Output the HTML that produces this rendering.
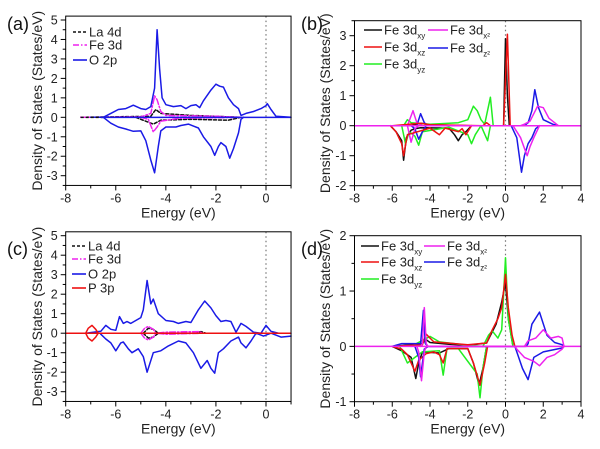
<!DOCTYPE html>
<html><head><meta charset="utf-8"><style>
body{margin:0;background:#fff;}
svg{display:block;font-family:"Liberation Sans",sans-serif;}
</style></head><body>
<svg id="fig" width="600" height="449" viewBox="0 0 600 449"></svg>
<script>
// ---------- Panel (a) data: [energy, DOS] ----------
const a_La4d_up=[[-7.4,0],[-4.6,0.05],[-4.4,0.4],[-4.2,0.2],[-3.0,0.1],[-2.0,0.05],[-1,0]];
const a_La4d_dn=[[-5.2,0],[-5,-0.1],[-4.5,-0.35],[-4.2,-0.15],[-3,-0.1],[-1.5,-0.15],[-1,0]];
const a_Fe3d_up=[[-7.4,0],[-5,0.02],[-4.6,0.2],[-4.45,1.1],[-4.35,0.9],[-4.2,0.3],[-4,0.1],[-2,0.05],[-1,0]];
const a_Fe3d_dn=[[-5,0],[-4.7,-0.1],[-4.5,-0.75],[-4.35,-0.5],[-4.2,-0.2],[-3.5,-0.05],[-1,0]];
const a_O2p_up=[[-7,0],[-6.5,0],[-6.2,0.2],[-5.9,0.4],[-5.6,0.45],[-5.3,0.62],[-5.0,0.45],[-4.8,0.4],[-4.6,0.55],[-4.45,1.5],[-4.35,4.5],[-4.25,2.5],[-4.15,1.0],[-4.0,0.65],[-3.7,0.55],[-3.4,0.6],[-3.2,0.45],[-3.0,0.6],[-2.8,0.65],[-2.65,0.5],[-2.5,0.85],[-2.2,1.4],[-2.0,1.7],[-1.85,1.6],[-1.7,1.55],[-1.5,1.0],[-1.3,0.65],[-1.1,0.45],[-1.0,0.1],[-0.8,0.2],[-0.5,0.3],[-0.2,0.45],[0,0.6],[0.05,0.7],[0.2,0.4],[0.4,0.05],[1,0]];
const a_O2p_dn=[[-6.5,0],[-6.2,-0.3],[-5.9,-0.5],[-5.6,-0.6],[-5.3,-0.72],[-5.0,-0.7],[-4.8,-1.2],[-4.6,-2.2],[-4.45,-2.85],[-4.3,-1.5],[-4.2,-0.7],[-4.0,-0.5],[-3.8,-0.5],[-3.6,-0.5],[-3.4,-0.42],[-3.1,-0.35],[-2.9,-0.45],[-2.7,-0.55],[-2.5,-1.0],[-2.2,-1.5],[-2.05,-1.95],[-1.9,-1.5],[-1.8,-1.3],[-1.6,-1.5],[-1.45,-2.1],[-1.3,-1.6],[-1.1,-0.8],[-1.0,-0.1],[-0.9,0]];
// ---------- Panel (b) data ----------
const b_xy_up=[[-6,0],[-5,0],[-4.5,0.08],[-4,0.03],[-2,0],[-0.1,0],[0,2.9],[0.1,1],[0.2,0],[3,0]];
const b_xy_dn=[[-6.1,0],[-5.8,-0.2],[-5.65,-0.35],[-5.5,-0.5],[-5.4,-1.15],[-5.25,-0.4],[-5.0,-0.15],[-4.8,-0.1],[-4.5,-0.07],[-3,-0.08],[-2.7,-0.3],[-2.5,-0.5],[-2.3,-0.3],[-2.1,-0.2],[-1.8,0]];
const b_xz_up=[[-6,0],[-4.5,0.08],[-4,0.03],[-1.2,0],[-1,0.1],[-0.8,0],[-0.1,0],[0.1,3.05],[0.25,0],[3,0]];
const b_xz_dn=[[-6.1,0],[-5.8,-0.2],[-5.5,-0.6],[-5.4,-1.0],[-5.2,-0.3],[-4,-0.08],[-3.5,-0.3],[-3.2,-0.08],[-2.5,-0.2],[-2.3,-0.1],[-2.1,-0.3],[-1.8,0]];
const b_yz_up=[[-5.4,0],[-5.2,0.2],[-5,0.1],[-4,0.05],[-2.5,0.1],[-2.0,0.2],[-1.7,0.65],[-1.5,0.5],[-1.3,0.2],[-1.1,0.05],[-0.8,0.95],[-0.65,0]];
const b_yz_dn=[[-5.5,0],[-5.3,-0.6],[-5.1,-0.2],[-4.8,-0.35],[-4.6,-0.65],[-4.4,-0.2],[-3,-0.05],[-2,-0.3],[-1.8,-0.6],[-1.6,-0.3],[-1.3,0],[-0.95,-0.5],[-0.8,0]];
const b_x2_up=[[-5.2,0],[-4.9,0.5],[-4.7,0.1],[-4.4,0],[0.8,0],[1.0,0.05],[1.3,0.15],[1.5,0.4],[1.7,0.65],[2.0,0.6],[2.3,0.25],[2.6,0.1],[2.8,0]];
const b_x2_dn=[[-5.2,0],[-5.0,-0.55],[-4.8,-0.1],[-4.6,0],[0.4,0],[0.8,-0.4],[1.0,-0.75],[1.15,-1.0],[1.3,-0.7],[1.5,-0.4],[1.8,0]];
const b_z2_up=[[-4.7,0],[-4.5,0.4],[-4.3,0.1],[-4.1,0],[1.0,0],[1.2,0.1],[1.4,0.5],[1.55,1.2],[1.75,0.6],[2.0,0.2],[2.5,0.05],[2.8,0]];
const b_z2_dn=[[-5,0],[-4.8,-0.1],[-4.6,-0.45],[-4.4,-0.2],[-4.2,0],[0.3,0],[0.6,-0.4],[0.85,-1.55],[1.0,-1.0],[1.2,-0.6],[1.4,-0.4],[1.6,-0.1],[1.8,0]];
// ---------- Panel (c) data ----------
const c_La4d_up=[[-4.9,0],[-4.7,0.25],[-4.5,0.2],[-4.3,0],[-2.8,0],[-2.6,0.08],[-2.4,0]];
const c_La4d_dn=[[-4.9,0],[-4.7,-0.25],[-4.5,-0.2],[-4.3,0]];
const c_Fe3d_up=[[-5.0,0],[-4.85,0.25],[-4.7,0.35],[-4.5,0.2],[-4.4,0],[-4,0.05],[-2.7,0.08],[-2.5,0]];
const c_Fe3d_dn=[[-5.0,0],[-4.85,-0.25],[-4.7,-0.35],[-4.5,-0.2],[-4.4,0],[-4,-0.05],[-2.5,0]];
const c_O2p_up=[[-7.2,0],[-6.6,0.1],[-6.4,0.4],[-6.2,0.2],[-6.0,0.15],[-5.85,0.85],[-5.7,0.5],[-5.55,0.6],[-5.4,0.5],[-5.0,0.8],[-4.9,1.2],[-4.75,2.7],[-4.6,1.5],[-4.5,1.75],[-4.3,1.0],[-4.0,0.65],[-3.7,0.6],[-3.5,0.5],[-3.2,0.6],[-3.0,0.55],[-2.7,1.2],[-2.45,1.65],[-2.2,1.3],[-2.0,0.9],[-1.8,0.6],[-1.6,0.65],[-1.4,0.6],[-1.2,0.05],[-1.0,0.5],[-0.8,0.35],[-0.5,0.05],[-0.2,0],[0,0.4],[0.2,0.1],[0.5,0],[1,0]];
const c_O2p_dn=[[-6.6,-0.05],[-6.4,-0.3],[-6.2,-0.5],[-6.0,-0.9],[-5.8,-0.5],[-5.7,-0.45],[-5.5,-0.8],[-5.35,-1.0],[-5.1,-0.8],[-4.9,-1.2],[-4.75,-2.0],[-4.5,-1.0],[-4.2,-0.9],[-3.9,-0.65],[-3.5,-0.4],[-3.2,-0.5],[-2.9,-1.0],[-2.6,-1.8],[-2.35,-1.4],[-2.2,-1.8],[-2.05,-2.05],[-1.9,-1.0],[-1.7,-0.8],[-1.4,-0.4],[-1.1,-0.2],[-1.0,-0.5],[-0.8,-0.75],[-0.6,-0.4],[-0.4,0],[-0.1,-0.15],[0.2,0],[0.6,-0.2],[1,-0.15]];
const c_P3p_up=[[-7.2,0],[-7.1,0.25],[-6.95,0.4],[-6.8,0.2],[-6.7,0]];
const c_P3p_dn=[[-7.2,0],[-7.1,-0.25],[-6.95,-0.4],[-6.8,-0.2],[-6.7,0]];
// ---------- Panel (d) data ----------
const d_xy_up=[[-6,0],[-5,0.03],[-4.5,0.03],[-4.2,0.12],[-4,0.07],[-3,0.04],[-2,0.02],[-1,0.06],[-0.5,0.4],[-0.2,0.8],[0,1.15],[0.15,0.5],[0.4,0]];
const d_xy_dn=[[-6,0],[-5.5,-0.08],[-5,-0.2],[-4.75,-0.58],[-4.6,-0.3],[-4.4,-0.1],[-3.5,-0.12],[-3.0,-0.04],[-2,-0.04],[-1.7,-0.3],[-1.4,-0.7],[-1.2,-0.4],[-1.0,0]];
const d_xz_up=[[-6,0],[-4.4,0.03],[-4.2,0.22],[-3.8,0.08],[-2,0.03],[-1,0.06],[-0.7,0.3],[-0.4,0.5],[-0.2,0.7],[0,1.3],[0.15,0.7],[0.35,0.2],[0.5,0]];
const d_xz_dn=[[-6,0],[-5.5,-0.05],[-5.2,-0.15],[-4.8,-0.45],[-4.6,-0.25],[-4.2,-0.13],[-3.8,-0.1],[-3.5,-0.15],[-3.3,-0.3],[-3.1,-0.04],[-2,-0.04],[-1.7,-0.3],[-1.35,-0.7],[-1.1,-0.3],[-0.95,0]];
const d_yz_up=[[-5,0],[-4,0.18],[-3.5,0.08],[-2,0.02],[-1.2,0],[-0.9,0.2],[-0.7,0.28],[-0.4,0.15],[-0.2,0.3],[0,1.6],[0.15,0.5],[0.4,0]];
const d_yz_dn=[[-5.6,0],[-5.2,-0.3],[-4.8,-0.2],[-4.4,-0.1],[-3.5,-0.08],[-3.3,-0.52],[-3.1,-0.04],[-2.5,-0.04],[-1.5,-0.5],[-1.35,-0.93],[-1.2,-0.4],[-1,0]];
const d_x2_up=[[-4.5,0],[-4.4,0.05],[-4.3,0.7],[-4.2,0.05],[-4.1,0],[1.0,0],[1.2,0.1],[1.6,0.15],[2.0,0.3],[2.4,0.15],[2.8,0.18],[3.0,0.15],[3.1,0]];
const d_x2_dn=[[-4.7,0],[-4.6,-0.1],[-4.45,-0.62],[-4.3,-0.1],[-4.2,0],[0.5,0],[0.6,-0.05],[1.0,-0.2],[1.5,-0.27],[1.8,-0.35],[2.2,-0.2],[2.6,-0.15],[3.0,-0.05],[3.1,0]];
const d_z2_up=[[-6,0],[-5.5,0.05],[-4.5,0.05],[-4.35,0.65],[-4.25,0.05],[-4.1,0],[1.1,0],[1.2,0.05],[1.4,0.4],[1.8,0.62],[2.2,0.2],[2.6,0.07],[3.0,0.03],[3.1,0]];
const d_z2_dn=[[-4.8,0],[-4.6,-0.2],[-4.5,-0.55],[-4.3,-0.05],[-4.1,0],[0.5,0],[0.9,-0.4],[1.2,-0.6],[1.5,-0.2],[2.0,-0.1],[3.0,-0.03],[3.1,0]];
// tick labels
const acXTicks=[-8,-6,-4,-2,0];
const acYTicks=[-3,-2,-1,0,1,2,3,4,5];
const bdXTicks=[-8,-6,-4,-2,0,2,4];
const bYTicks=[-2,-1,0,1,2,3];
const dYTicks=[-1,0,1,2];

const NS='http://www.w3.org/2000/svg';
const svg=document.getElementById('fig');
function mk(tag,attrs,parent){const e=document.createElementNS(NS,tag);for(const k in attrs)e.setAttribute(k,attrs[k]);(parent||svg).appendChild(e);return e;}

function panel(p){
  const g=mk('g',{});
  
  
  const sx=v=>p.ax[1]+(v-p.ax[0])*(p.ax[3]-p.ax[1])/(p.ax[2]-p.ax[0]);
  const sy=v=>p.ay[1]+(v-p.ay[0])*(p.ay[3]-p.ay[1])/(p.ay[2]-p.ay[0]);
  const L=sx(p.xmin),R=sx(p.xmax),T=sy(p.ytop),B=sy(p.ymin);
  const fl=mk('line',{x1:sx(0),x2:sx(0),y1:T,y2:B,stroke:'#777','stroke-width':1.2,'stroke-dasharray':'1.5,3'},g);
  
  
  p.series.forEach(s=>{
    [s.up,s.dn].forEach((arr,i)=>{
      const d=arr.map((pt,j)=>(j?'L':'M')+sx(pt[0]).toFixed(1)+','+sy(pt[1]).toFixed(1)).join('');
      const path=mk('path',{d:d,fill:'none',stroke:s.color,'stroke-width':1.5,'stroke-linejoin':'round','stroke-linecap':'round','stroke-dasharray':s.dash||'none'},g);
      
      
    });
  });
  p.base.forEach(b=>{
    const bl=mk('line',{x1:sx(b.from),x2:sx(b.to),y1:sy(0),y2:sy(0),stroke:b.color,'stroke-width':1.5,'stroke-dasharray':b.dash||'none'},g);
    
    
  });
  const fr=mk('rect',{x:L,y:T,width:R-L,height:B-T,fill:'none',stroke:'#000','stroke-width':1},g);
  
  
  for(let v=p.xmin;v<=p.xmax+1e-9;v+=1){
    const major=p.xticks.includes(v);
    mk('line',{x1:sx(v),x2:sx(v),y1:B,y2:B+(major?5:3),stroke:'#000','stroke-width':1},g);
  }
  p.xticks.forEach(v=>{
    const t=mk('text',{x:sx(v),y:B+17,'font-size':12.5,'text-anchor':'middle',fill:'#222'},g);
    t.textContent=v;
    
    
  });
  for(let v=p.ymin;v<=p.ytop+1e-9;v+=0.5){
    const major=Math.abs(v-Math.round(v))<1e-9;
    mk('line',{x1:L,x2:L-(major?5:3),y1:sy(v),y2:sy(v),stroke:'#000','stroke-width':1},g);
  }
  p.yticks.forEach(v=>{
    const t=mk('text',{x:L-8,y:sy(v)+4.5,'font-size':12.5,'text-anchor':'end',fill:'#222'},g);
    t.textContent=v;
    
    
  });
  const xt=mk('text',{x:(L+R)/2,y:B+32,'font-size':14,'text-anchor':'middle',fill:'#222'},g);
  xt.textContent='Energy (eV)';
  
  
  const cy=(T+B)/2, cx=p.ytx;
  const yt=mk('text',{x:cx,y:cy,'font-size':14,'text-anchor':'middle',fill:'#222',transform:'rotate(-90 '+cx+' '+cy+')'},g);
  yt.textContent='Density of States (States/eV)';
  
  
  const pl=mk('text',{x:p.lx,y:p.ly,'font-size':18,fill:'#111'},g);
  pl.textContent='('+p.id+')';
  
  
  p.legend.forEach(e=>{
    const lg=mk('g',{},g);
    
    
    mk('line',{x1:e.x,x2:e.x+e.w,y1:e.y,y2:e.y,stroke:e.color,'stroke-width':1.6,'stroke-dasharray':e.dash||'none'},lg);
    const t=mk('text',{x:e.x+e.w+2,y:e.y+4.5,'font-size':13,fill:'#222'},lg);
    t.textContent=e.label;
    if(e.sub){const s=mk('tspan',{'font-size':8,dy:4},t);s.textContent=e.sub;}
  });
}

const dashLa='3,2', dashFe='6,2,1.5,2';
const BLK='#111',MAG='#ee22ee',BLU='#1a1ae6',RED='#ee1111',GRN='#22ee22';
panel({id:'a',ax:[-8,65.7,0,266],ay:[5,20,-3,175.7],xmin:-8,xmax:1,ymin:-3.5,ytop:5.2,
  xticks:acXTicks,yticks:acYTicks,lx:7,ly:30,ytx:42,
  series:[{key:'la-4d',color:BLK,dash:dashLa,up:a_La4d_up,dn:a_La4d_dn},
          {key:'fe-3d',color:MAG,dash:dashFe,up:a_Fe3d_up,dn:a_Fe3d_dn},
          {key:'o-2p',color:BLU,up:a_O2p_up,dn:a_O2p_dn}],
  base:[{from:-7.4,to:-6.5,color:BLK,dash:dashLa},{from:-6.6,to:1,color:BLU}],
  legend:[{x:73,y:32,w:14,color:BLK,dash:dashLa,label:'La 4d'},
          {x:73,y:45,w:14,color:MAG,dash:dashFe,label:'Fe 3d'},
          {x:73,y:60,w:14,color:BLU,label:'O 2p'}]});
panel({id:'b',ax:[-8,354.5,4,581],ay:[3,35.7,-2,185.7],xmin:-8,xmax:4,ymin:-2,ytop:3.5,
  xticks:bdXTicks,yticks:bYTicks,lx:301,ly:30,ytx:330,
  series:[{key:'fe-3d-xy',color:BLK,up:b_xy_up,dn:b_xy_dn},
          {key:'fe-3d-yz',color:GRN,up:b_yz_up,dn:b_yz_dn},
          {key:'fe-3d-z2',color:BLU,up:b_z2_up,dn:b_z2_dn},
          {key:'fe-3d-x2',color:MAG,up:b_x2_up,dn:b_x2_dn},
          {key:'fe-3d-xz',color:RED,up:b_xz_up,dn:b_xz_dn}],
  base:[{from:-8,to:4,color:MAG}],
  legend:[{x:364,y:30,w:18,color:BLK,label:'Fe 3d',sub:'xy'},
          {x:364,y:47,w:18,color:RED,label:'Fe 3d',sub:'xz'},
          {x:364,y:64,w:18,color:GRN,label:'Fe 3d',sub:'yz'},
          {x:428,y:30,w:20,color:MAG,label:'Fe 3d',sub:'x²'},
          {x:428,y:48,w:20,color:BLU,label:'Fe 3d',sub:'z²'}]});
panel({id:'c',ax:[-8,65.7,0,266],ay:[5,235.7,-3,391.7],xmin:-8,xmax:1,ymin:-3.5,ytop:5.2,
  xticks:acXTicks,yticks:acYTicks,lx:7,ly:255,ytx:42,
  series:[{key:'o-2p',color:BLU,up:c_O2p_up,dn:c_O2p_dn},
          {key:'la-4d',color:BLK,dash:dashLa,up:c_La4d_up,dn:c_La4d_dn},
          {key:'fe-3d',color:MAG,dash:dashFe,up:c_Fe3d_up,dn:c_Fe3d_dn},
          {key:'p-3p',color:RED,up:c_P3p_up,dn:c_P3p_dn}],
  base:[{from:-8,to:1,color:RED}],
  legend:[{x:72,y:246,w:14,color:BLK,dash:dashLa,label:'La 4d'},
          {x:72,y:259,w:14,color:MAG,dash:dashFe,label:'Fe 3d'},
          {x:72,y:274,w:14,color:BLU,label:'O 2p'},
          {x:72,y:288,w:14,color:RED,label:'P 3p'}]});
panel({id:'d',ax:[-8,354.5,4,581],ay:[2,235.7,-1,401.7],xmin:-8,xmax:4,ymin:-1,ytop:2,
  xticks:bdXTicks,yticks:dYTicks,lx:301,ly:255,ytx:330,
  series:[{key:'fe-3d-xy',color:BLK,up:d_xy_up,dn:d_xy_dn},
          {key:'fe-3d-yz',color:GRN,up:d_yz_up,dn:d_yz_dn},
          {key:'fe-3d-xz',color:RED,up:d_xz_up,dn:d_xz_dn},
          {key:'fe-3d-z2',color:BLU,up:d_z2_up,dn:d_z2_dn},
          {key:'fe-3d-x2',color:MAG,up:d_x2_up,dn:d_x2_dn}],
  base:[{from:-8,to:4,color:MAG}],
  legend:[{x:361,y:246,w:18,color:BLK,label:'Fe 3d',sub:'xy'},
          {x:361,y:262,w:18,color:RED,label:'Fe 3d',sub:'xz'},
          {x:361,y:279,w:18,color:GRN,label:'Fe 3d',sub:'yz'},
          {x:424,y:246,w:21,color:MAG,label:'Fe 3d',sub:'x²'},
          {x:424,y:262,w:21,color:BLU,label:'Fe 3d',sub:'z²'}]});
</script>
</body></html>
